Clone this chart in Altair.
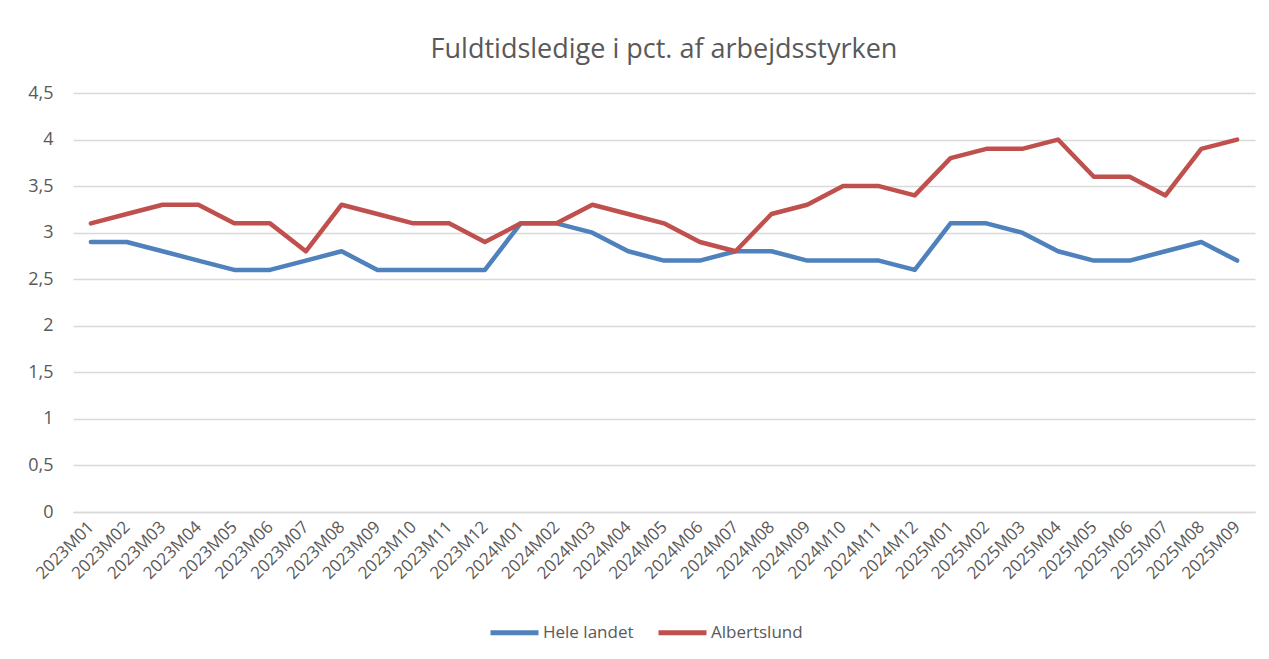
import altair as alt
import pandas as pd

months = [
    "2023M01","2023M02","2023M03","2023M04","2023M05","2023M06","2023M07","2023M08","2023M09","2023M10","2023M11","2023M12",
    "2024M01","2024M02","2024M03","2024M04","2024M05","2024M06","2024M07","2024M08","2024M09","2024M10","2024M11","2024M12",
    "2025M01","2025M02","2025M03","2025M04","2025M05","2025M06","2025M07","2025M08","2025M09",
]
hele_landet = [2.9,2.9,2.8,2.7,2.6,2.6,2.7,2.8,2.6,2.6,2.6,2.6,
               3.1,3.1,3.0,2.8,2.7,2.7,2.8,2.8,2.7,2.7,2.7,2.6,
               3.1,3.1,3.0,2.8,2.7,2.7,2.8,2.9,2.7]
albertslund = [3.1,3.2,3.3,3.3,3.1,3.1,2.8,3.3,3.2,3.1,3.1,2.9,
               3.1,3.1,3.3,3.2,3.1,2.9,2.8,3.2,3.3,3.5,3.5,3.4,
               3.8,3.9,3.9,4.0,3.6,3.6,3.4,3.9,4.0]
series_names = ["Hele landet", "Albertslund"]
series_colors = ["#4F81BD", "#C0504D"]
y_ticks = [0, 0.5, 1, 1.5, 2, 2.5, 3, 3.5, 4, 4.5]

rows = []
for i, m in enumerate(months):
    rows.append({"Måned": m, "Serie": series_names[0], "Værdi": hele_landet[i], "ord": 0})
    rows.append({"Måned": m, "Serie": series_names[1], "Værdi": albertslund[i], "ord": 1})
df = pd.DataFrame(rows)

FONT = "Open Sans"
GREY = "#595959"

chart = alt.Chart(df).mark_line(strokeWidth=4.5, strokeCap="round", strokeJoin="round").encode(
    x=alt.X("Måned:N", sort=months,
            scale=alt.Scale(type="point", padding=0.5),
            axis=alt.Axis(title=None, labelAngle=-45, labelAlign="right", labelBaseline="middle",
                          labelFontSize=17, labelColor=GREY, labelFont=FONT, labelPadding=12,
                          ticks=False, domain=True, domainColor="#D9D9D9", domainWidth=1.5,
                          grid=False, labelOverlap=False)),
    y=alt.Y("Værdi:Q",
            scale=alt.Scale(domain=[0, 4.5], nice=False, zero=True),
            axis=alt.Axis(title=None, values=y_ticks, format=",.1~f", labelFontSize=18,
                          labelColor=GREY, labelFont=FONT, labelPadding=20, ticks=False,
                          domain=False, grid=True, gridColor="#D9D9D9", gridWidth=1.5)),
    color=alt.Color("Serie:N", sort=series_names,
                    scale=alt.Scale(domain=series_names, range=series_colors),
                    legend=alt.Legend(title=None, orient="none", direction="horizontal",
                                      legendX=415, legendY=513,
                                      symbolType="stroke", symbolSize=2304, symbolStrokeWidth=5,
                                      labelFontSize=17, labelColor=GREY, labelFont=FONT,
                                      columnPadding=14, labelOffset=2)),
    order=alt.Order("ord:Q"),
).properties(
    width=1182,
    height=419,
    title=alt.TitleParams("Fuldtidsledige i pct. af arbejdsstyrken", fontSize=27, font=FONT,
                          fontWeight="normal", color=GREY, anchor="middle", offset=20),
    autosize=alt.AutoSizeParams(type="none"),
    padding={"left": 65, "top": 85, "right": 6, "bottom": 135},
).configure(
    locale={"number": {"decimal": ",", "thousands": ".", "grouping": [3], "currency": ["", " kr."]}}
).configure_view(stroke=None)

chart.save("out.html", embed_options={"renderer": "svg", "actions": False})
